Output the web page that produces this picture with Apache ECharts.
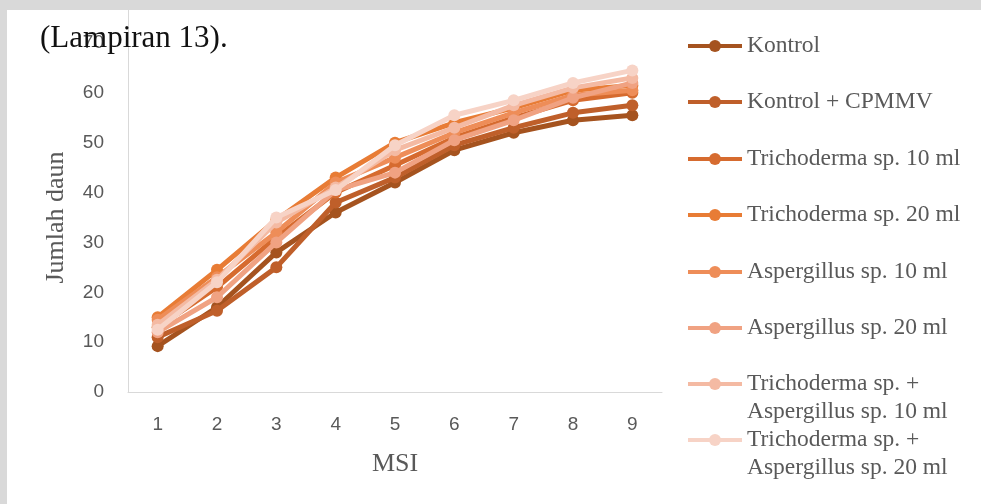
<!DOCTYPE html>
<html>
<head>
<meta charset="utf-8">
<script src="https://cdn.jsdelivr.net/npm/echarts@6/dist/echarts.min.js"></script>
<style>html,body{margin:0;padding:0;background:#fff}#c{width:981px;height:504px}</style>
</head>
<body>
<div id="c"></div>
<script>
const categories = ['1','2','3','4','5','6','7','8','9'];
const seriesNames = [
  'Kontrol',
  'Kontrol + CPMMV',
  'Trichoderma sp. 10 ml',
  'Trichoderma sp. 20 ml',
  'Aspergillus sp. 10 ml',
  'Aspergillus sp. 20 ml',
  'Trichoderma sp. + Aspergillus sp. 10 ml',
  'Trichoderma sp. + Aspergillus sp. 20 ml'
];
const kontrol      = [9.2, 17.0, 28.0, 36.0, 42.0, 48.5, 52.0, 54.5, 55.5];
const kontrolCpmmv = [11.0, 16.3, 25.0, 38.0, 43.0, 49.5, 53.0, 56.0, 57.5];
const tricho10     = [13.0, 21.0, 31.0, 40.0, 45.5, 51.0, 55.0, 58.5, 60.0];
const tricho20     = [15.0, 24.5, 34.5, 43.0, 50.0, 54.0, 57.0, 60.5, 61.5];
const asper10      = [14.5, 23.0, 32.0, 42.0, 47.0, 52.0, 56.0, 59.5, 60.5];
const asper20      = [12.0, 19.0, 30.0, 40.5, 44.0, 50.5, 54.5, 59.0, 62.0];
const triAsp10     = [13.5, 22.5, 34.0, 41.0, 48.5, 53.0, 57.5, 61.0, 63.0];
const triAsp20     = [12.5, 22.0, 35.0, 40.5, 49.5, 55.5, 58.5, 62.0, 64.5];
const yTicks = [0, 10, 20, 30, 40, 50, 60, 70];

const allData = [kontrol, kontrolCpmmv, tricho10, tricho20, asper10, asper20, triAsp10, triAsp20];
const colors = ['#A5531F', '#BF5F2A', '#D66B2F', '#E87C35', '#EE8D58', '#F0A282', '#F4BAA3', '#F7D3C6'];
const legendCenters = [46, 102, 159, 215, 272, 328, 384, 440];
const serif = '"Liberation Serif", "Times New Roman", serif';
const sans = '"Liberation Sans", Arial, sans-serif';

const chart = echarts.init(document.getElementById('c'), null, {renderer: 'canvas'});

const legends = seriesNames.map((n, i) => {
  const two = n.indexOf(' + Aspergillus') >= 0;
  return {
    show: true,
    data: [n],
    orient: 'vertical',
    left: 686,
    top: legendCenters[i] - (two ? 42 : 14),
    padding: 0,
    itemWidth: 54,
    itemHeight: 15,
    itemGap: 0,
    lineStyle: {width: 4},
    formatter: (name) => name.indexOf(' + Aspergillus') >= 0
      ? '\n' + name.replace(' + Aspergillus', ' +\nAspergillus')
      : name,
    textStyle: {
      fontFamily: serif,
      fontSize: 23.5,
      color: '#595959',
      lineHeight: 28
    }
  };
});

const series = seriesNames.map((n, i) => ({
  name: n,
  type: 'line',
  data: allData[i],
  symbol: 'circle',
  symbolSize: 12,
  lineStyle: {width: 5, color: colors[i]},
  itemStyle: {color: colors[i]},
  emphasis: {disabled: true},
  animation: false,
  z: 2 + i
}));

chart.setOption({
  animation: false,
  backgroundColor: '#ffffff',
  color: colors,
  grid: {left: 128, right: 319, top: 43, bottom: 112, containLabel: false},
  legend: legends,
  xAxis: {
    type: 'category',
    data: categories,
    boundaryGap: true,
    name: 'MSI',
    nameLocation: 'middle',
    nameGap: 59,
    nameTextStyle: {fontFamily: serif, fontSize: 26, color: '#595959'},
    axisLine: {lineStyle: {color: '#D9D9D9', width: 1}},
    axisTick: {show: false},
    axisLabel: {fontFamily: sans, fontSize: 19, color: '#595959', margin: 23}
  },
  yAxis: {
    type: 'value',
    min: yTicks[0],
    max: yTicks[yTicks.length - 1],
    interval: 10,
    name: 'Jumlah daun',
    nameLocation: 'middle',
    nameGap: 59,
    nameRotate: 90,
    nameTextStyle: {fontFamily: serif, fontSize: 26, color: '#595959'},
    axisLine: {show: true, lineStyle: {color: '#D9D9D9', width: 1}},
    axisTick: {show: false},
    splitLine: {show: false},
    axisLabel: {fontFamily: sans, fontSize: 19, color: '#595959', margin: 24}
  },
  graphic: [
    {type: 'rect', shape: {x: 0, y: 0, width: 981, height: 10}, style: {fill: '#D9D9D9'}, silent: true, z: 0},
    {type: 'rect', shape: {x: 0, y: 0, width: 7, height: 504}, style: {fill: '#D9D9D9'}, silent: true, z: 0},
    {type: 'line', shape: {x1: 128.5, y1: 10, x2: 128.5, y2: 43}, style: {stroke: '#D9D9D9', lineWidth: 1}, silent: true, z: 0},
    {type: 'text', left: 40, top: 23, silent: true, z: 100,
     style: {text: '(Lampiran 13).', fontFamily: serif, fontSize: 31, fill: '#111111'}}
  ],
  series: series
});
</script>
</body>
</html>
